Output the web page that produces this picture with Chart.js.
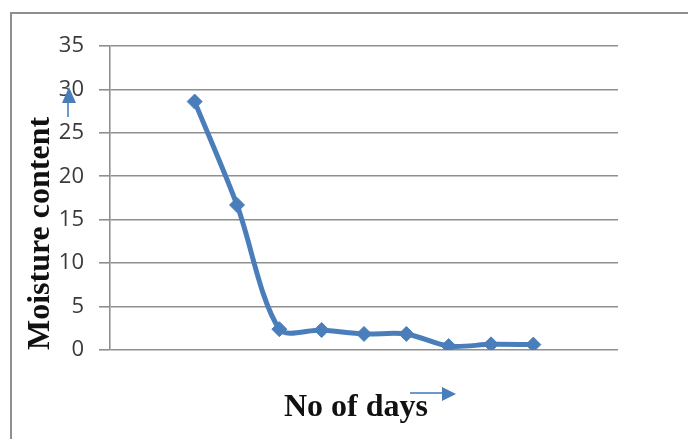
<!DOCTYPE html>
<html>
<head>
<meta charset="utf-8">
<script src="https://cdn.jsdelivr.net/npm/chart.js@4.4.1/dist/chart.umd.min.js"></script>
<style>
    body { margin: 0; background: #fff; }
    #wrap { position: relative; width: 688px; height: 439px; overflow: hidden; }
    #frame {
        position: absolute; left: 10px; top: 12px; right: -10px; bottom: -10px;
        border-top: 2px solid #8f8f8f; border-left: 2px solid #8f8f8f;
    }
    #moistureChart { position: absolute; left: 0; top: 0; }
</style>
</head>
<body>
<div id="wrap">
    <div id="frame"></div>
    <canvas id="moistureChart" width="688" height="439"></canvas>
</div>
<script>
const days = [2, 3, 4, 5, 6, 7, 8, 9, 10];
const moisture = [28.6, 16.7, 2.4, 2.3, 1.85, 1.85, 0.45, 0.65, 0.62];
const yTicks = [0, 5, 10, 15, 20, 25, 30, 35];

const lineColor = '#4a7ebb';
const gridColor = '#8f8f8f';

// little blue arrows next to the axis titles
const axisArrows = {
    id: 'axisArrows',
    afterDraw(chart) {
        const ctx = chart.ctx;
        const area = chart.chartArea;
        ctx.save();
        ctx.strokeStyle = '#6a9ad4';
        ctx.fillStyle = lineColor;
        ctx.lineWidth = 2;

        // up arrow beside the y title
        const ux = area.left - 42;
        ctx.beginPath();
        ctx.moveTo(ux, area.top + 71);
        ctx.lineTo(ux, area.top + 55);
        ctx.stroke();
        ctx.beginPath();
        ctx.moveTo(ux + 1, area.top + 41);
        ctx.lineTo(ux - 6, area.top + 57);
        ctx.lineTo(ux + 8, area.top + 57);
        ctx.closePath();
        ctx.fill();

        // right arrow after the x title
        const ry = area.bottom + 43;
        ctx.beginPath();
        ctx.moveTo(area.left + 300, ry);
        ctx.lineTo(area.left + 334, ry);
        ctx.stroke();
        ctx.beginPath();
        ctx.moveTo(area.left + 346, ry + 1);
        ctx.lineTo(area.left + 332, ry - 6);
        ctx.lineTo(area.left + 332, ry + 8);
        ctx.closePath();
        ctx.fill();
        ctx.restore();
    }
};

const ctx = document.getElementById('moistureChart').getContext('2d');

const moistureChart = new Chart(ctx, {
    type: 'line',
    data: {
        datasets: [{
            data: days.map((d, i) => ({ x: d, y: moisture[i] })),
            borderColor: lineColor,
            backgroundColor: lineColor,
            borderWidth: 5,
            tension: 0.3,
            pointStyle: 'rectRot',
            pointRadius: 7.5,
            pointBorderWidth: 1,
            pointBackgroundColor: lineColor,
            pointBorderColor: lineColor
        }]
    },
    options: {
        responsive: false,
        animation: false,
        layout: { padding: { left: 0, top: 46, right: 70, bottom: 0 } },
        plugins: {
            legend: { display: false },
            tooltip: { enabled: false }
        },
        scales: {
            x: {
                type: 'linear',
                min: 0,
                max: 12,
                ticks: { display: false },
                grid: { display: false },
                border: { display: false },
                title: {
                    display: true,
                    // trailing spaces nudge the centred title a little left
                    text: 'No of days  ',
                    color: '#111',
                    font: { family: 'Liberation Serif', size: 32, weight: 'bold' },
                    padding: { top: 0, bottom: 12 }
                },
                afterFit(scale) { scale.height = 89; }
            },
            y: {
                min: 0,
                max: 35,
                afterBuildTicks(scale) { scale.ticks = yTicks.map(v => ({ value: v })); },
                ticks: {
                    color: '#3a3a3a',
                    padding: 15,
                    font: { family: 'Open Sans', size: 22 }
                },
                grid: { color: gridColor, lineWidth: 1.6, tickLength: 11 },
                border: { color: gridColor, width: 1.6 },
                title: {
                    display: true,
                    text: 'Moisture content',
                    align: 'start',
                    color: '#111',
                    font: { family: 'Liberation Serif', size: 32, weight: 'bold' },
                    padding: { top: 22, bottom: 0 }
                },
                afterFit(scale) { scale.width = 110; }
            }
        }
    },
    plugins: [axisArrows]
});
</script>
</body>
</html>
